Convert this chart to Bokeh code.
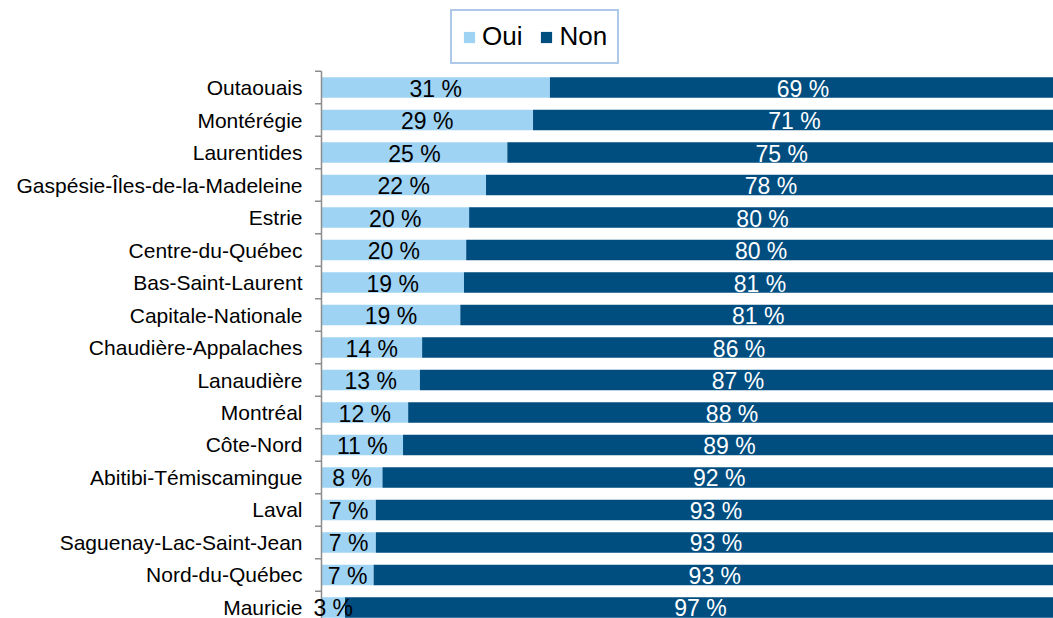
from bokeh.plotting import figure
from bokeh.models import ColumnDataSource, Range1d, FixedTicker, Legend, LegendItem, LabelSet
from bokeh.core.properties import value
from bokeh.embed import file_html
from bokeh.resources import INLINE

regions = ["Outaouais", "Montérégie", "Laurentides", "Gaspésie-Îles-de-la-Madeleine",
           "Estrie", "Centre-du-Québec", "Bas-Saint-Laurent", "Capitale-Nationale",
           "Chaudière-Appalaches", "Lanaudière", "Montréal", "Côte-Nord",
           "Abitibi-Témiscamingue", "Laval", "Saguenay-Lac-Saint-Jean",
           "Nord-du-Québec", "Mauricie"]
oui = [31.1, 28.8, 25.3, 22.4, 20.1, 19.7, 19.4, 18.9, 13.7, 13.4, 11.8, 11.1,
       8.3, 7.4, 7.4, 7.1, 3.2]
non = [68.9, 71.2, 74.7, 77.6, 79.9, 80.3, 80.6, 81.1, 86.3, 86.6, 88.2, 88.9,
       91.7, 92.6, 92.6, 92.9, 96.8]
series = ["Oui", "Non"]

C_OUI = "#9FD3F4"
C_NON = "#004D80"
AXIS = "#8C8C8C"
FONT = "Liberation Sans"

n = len(regions)
ypos = [n - 1 - i for i in range(n)]
bounds = [i + 0.5 for i in range(n)]
src = ColumnDataSource(dict(
    y=ypos, oui=oui, non=non,
    zero=[0] * n,
    total=[o + q for o, q in zip(oui, non)],
    oui_mid=[o / 2 for o in oui],
    non_mid=[o + q / 2 for o, q in zip(oui, non)],
    oui_lab=[f"{round(o)} %" for o in oui],
    non_lab=[f"{round(q)} %" for q in non],
))

PX = 7.345  # pixels per percentage point
y_lo, y_hi = -0.34, n - 0.5
p = figure(width=1053, height=618, output_backend="svg", toolbar_location=None,
           x_range=Range1d(-10 / PX, 99.66), y_range=Range1d(y_lo, 18.68),
           x_axis_location=None, min_border_left=311, min_border_right=0,
           min_border_top=0, min_border_bottom=0)
p.outline_line_color = None
p.xgrid.visible = False
p.ygrid.visible = False
p.background_fill_color = "white"

r_oui = p.hbar(y="y", left="zero", right="oui", height=0.63, color=C_OUI,
               line_color=None, source=src)
r_non = p.hbar(y="y", left="oui", right="total", height=0.63, color=C_NON,
               line_color=None, source=src)

# category axis line and tick marks between categories
p.segment(x0=[0], y0=[y_lo], x1=[0], y1=[y_hi], line_color=AXIS, line_width=1.5)
p.segment(x0=[-6.5 / PX] * n, y0=bounds, x1=[0] * n, y1=bounds,
          line_color=AXIS, line_width=1.5)

p.add_layout(LabelSet(x="oui_mid", y="y", text="oui_lab", source=src,
                      text_align="center", text_baseline="middle",
                      text_font=value(FONT), text_font_size="23px",
                      text_color="black", y_offset=-1))
p.add_layout(LabelSet(x="non_mid", y="y", text="non_lab", source=src,
                      text_align="center", text_baseline="middle",
                      text_font=value(FONT), text_font_size="23px",
                      text_color="white", y_offset=-1))

yax = p.yaxis[0]
yax.ticker = FixedTicker(ticks=ypos, minor_ticks=[])
yax.major_label_overrides = {y: name for y, name in zip(ypos, regions)}
yax.major_tick_out = 0
yax.major_tick_in = 0
yax.minor_tick_out = 0
yax.minor_tick_in = 0
yax.axis_line_color = None
yax.major_label_standoff = 9
yax.major_label_text_font = FONT
yax.major_label_text_font_size = "21px"
yax.major_label_text_color = "black"

legend = Legend(items=[LegendItem(label=series[0], renderers=[r_oui]),
                       LegendItem(label=series[1], renderers=[r_non])],
                orientation="horizontal", location=(139, 554),
                label_text_font=FONT, label_text_font_size="26px",
                label_text_color="black",
                glyph_width=14, glyph_height=14, label_standoff=6,
                spacing=17, padding=10, margin=0,
                border_line_color="#5E93D2", border_line_width=2,
                background_fill_alpha=1.0)
p.add_layout(legend, "center")

open("out.html", "w").write(file_html(p, INLINE))
